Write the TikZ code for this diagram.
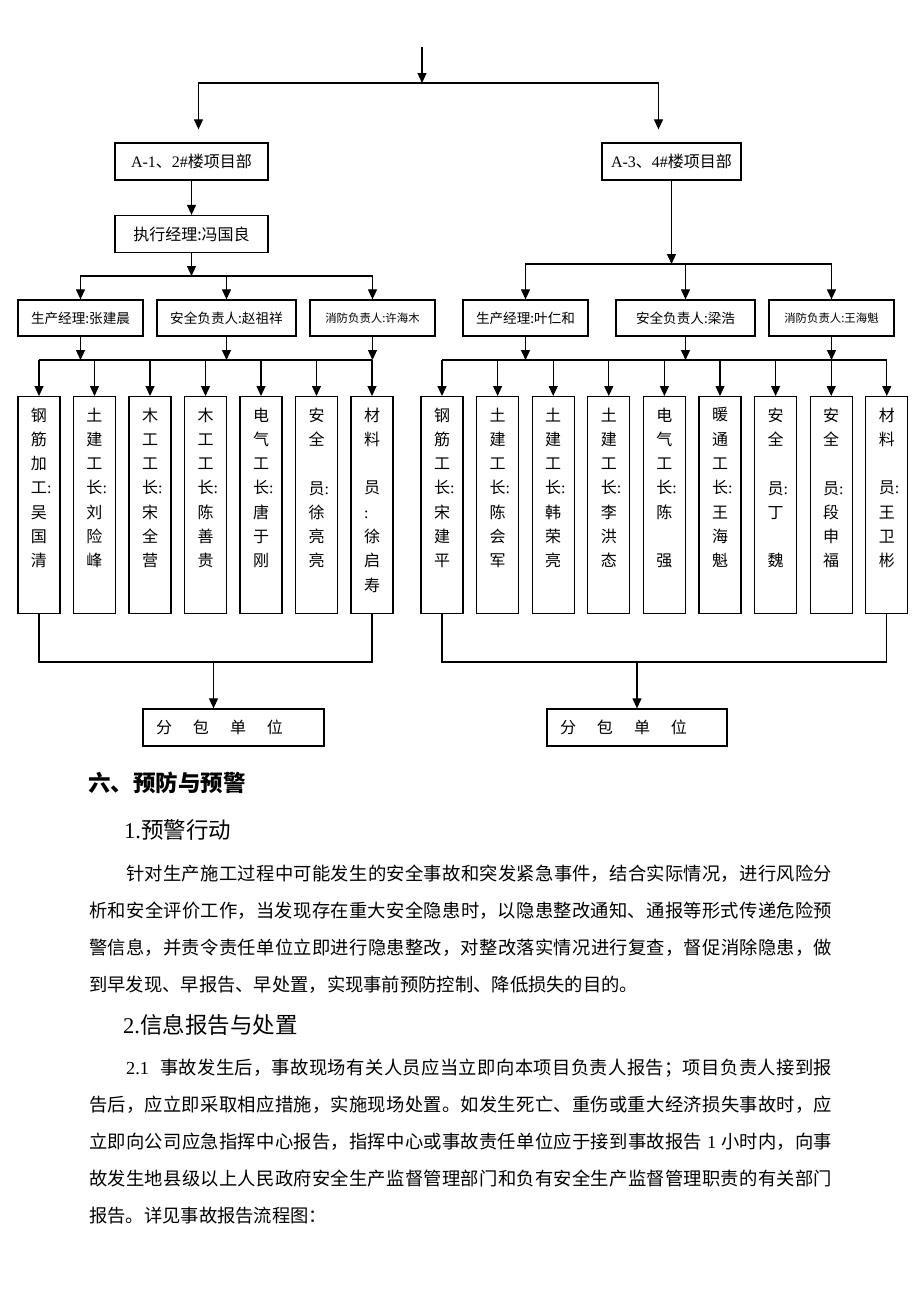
\documentclass[tikz,border=0pt]{standalone}
\usepackage{fontspec}
\setmainfont{Noto Sans CJK SC}
\newfontfamily\latfont{Liberation Serif}
\usetikzlibrary{arrows.meta,positioning,calc}
\newcommand\lat[1]{{\latfont #1}}
\newcommand\cln{\rlap{\lat{:}}}
\newcommand\vtxt[1]{\parbox[t][217pt][t]{42pt}{\centering\vspace*{11pt}#1}}
\XeTeXlinebreaklocale "zh"
\XeTeXlinebreakskip=0pt plus 2pt\relax

\begin{document}
\begin{tikzpicture}[x=1pt, y=-1pt,
    wire/.style={line width=1.2pt},
    arrow/.style={-{Triangle[width=9pt,length=10pt]}, line width=1.2pt},
    projbox/.style={rectangle, draw, line width=1.3pt, minimum width=153pt, minimum height=37pt, inner sep=0pt, font=\fontsize{16}{16}\selectfont},
    rolebox/.style={rectangle, draw, line width=1.3pt, minimum width=125pt, minimum height=36pt, inner sep=0pt, font=\fontsize{13.6}{14}\selectfont},
    crew/.style={rectangle, draw, line width=1.3pt, anchor=north, inner sep=0pt, font=\fontsize{16}{24.3}\selectfont},
    subbox/.style={rectangle, draw, line width=1.3pt, text width=155pt, inner xsep=13pt, inner ysep=0pt, minimum height=37pt, align=left, font=\fontsize{16}{16}\selectfont},
    para/.style={text width=743pt, align=justify, inner sep=0pt, anchor=base west, font=\fontsize{18.3}{37}\selectfont},
    head/.style={inner sep=0pt, anchor=base west, font=\fontsize{22.5}{24}\selectfont}
]
    \path[fill=white] (0,0) rectangle (920,1302);
    \useasboundingbox (0,0) rectangle (920,1302);

    % 项目部
    \node[projbox] (projA) at (191.5,161.5) {\lat{A-1}、\lat{2\#}楼项目部};
    \node[projbox] (execA) at (191.5,234) {执行经理:冯国良};
    \node[projbox, minimum width=139pt] (projB) at (671.5,161.5) {\lat{A-3}、\lat{4\#}楼项目部};

    % 管理人员
    \node[rolebox] (prodA) at (80.5,318) {生产经理:张建晨};
    \node[rolebox, minimum width=139pt] (safeA) at (226.5,318) {安全负责人:赵祖祥};
    \node[rolebox, font=\fontsize{11.4}{12}\selectfont] (fireA) at (372.5,318) {消防负责人:许海木};
    \node[rolebox] (prodB) at (525.5,318) {生产经理:叶仁和};
    \node[rolebox, minimum width=139pt] (safeB) at (685.5,318) {安全负责人:梁浩};
    \node[rolebox, font=\fontsize{11.4}{12}\selectfont] (fireB) at (831.5,318) {消防负责人:王海魁};

    % 工长及班组
    \foreach \t [count=\i] in {%
        {钢\\筋\\加\\工\cln\\吴\\国\\清},
        {土\\建\\工\\长\cln\\刘\\险\\峰},
        {木\\工\\工\\长\cln\\宋\\全\\营},
        {木\\工\\工\\长\cln\\陈\\善\\贵},
        {电\\气\\工\\长\cln\\唐\\于\\刚},
        {安\\全\\\mbox{}\\员\cln\\徐\\亮\\亮},
        {材\\料\\\mbox{}\\员\\\makebox[1em][l]{\lat{:}}\\徐\\启\\寿}}
        \node[crew] (crewA\i) at ({39+55.5*(\i-1)},396) {\vtxt{\t}};
    \foreach \t [count=\i] in {%
        {钢\\筋\\工\\长\cln\\宋\\建\\平},
        {土\\建\\工\\长\cln\\陈\\会\\军},
        {土\\建\\工\\长\cln\\韩\\荣\\亮},
        {土\\建\\工\\长\cln\\李\\洪\\态},
        {电\\气\\工\\长\cln\\陈\\\mbox{}\\强},
        {暖\\通\\工\\长\cln\\王\\海\\魁},
        {安\\全\\\mbox{}\\员\cln\\丁\\\mbox{}\\魏},
        {安\\全\\\mbox{}\\员\cln\\段\\申\\福},
        {材\\料\\\mbox{}\\员\cln\\王\\卫\\彬}}
        \node[crew] (crewB\i) at ({442+55.6*(\i-1)},396) {\vtxt{\t}};

    % 分包单位
    \node[subbox] (subA) at (233.5,727.5) {分\hspace{21pt}包\hspace{21pt}单\hspace{21pt}位};
    \node[subbox, text width=154pt] (subB) at (637,727.5) {分\hspace{21pt}包\hspace{21pt}单\hspace{21pt}位};

    % 箭头
    \coordinate (top) at (422,47);
    \coordinate (bus0) at (422,83);
    \coordinate (inA0) at ([xshift=7pt,yshift=13pt]projA.north);
    \coordinate (inB0) at ([xshift=-13pt,yshift=13pt]projB.north);
    \draw[arrow] (top) -- (bus0);
    \draw[arrow] (bus0) -| (inA0);
    \draw[arrow] (bus0) -| (inB0);

    \draw[arrow] (projA) -- (execA);
    \coordinate (busA1) at (191.5,276);
    \draw[arrow] (execA) -- (busA1);
    \draw[arrow] (busA1) -| (prodA);
    \draw[arrow] (busA1) -| (fireA);
    \draw[arrow] (busA1 -| safeA) -- (safeA);

    \coordinate (busB1) at (671.5,264);
    \draw[arrow] (projB) -- (busB1);
    \draw[arrow] (busB1) -| (prodB);
    \draw[arrow] (busB1) -| (fireB);
    \draw[arrow] (busB1 -| safeB) -- (safeB);

    \coordinate (busA2) at (0,360);
    \coordinate (busB2) at (0,360);
    \foreach \n in {prodA,safeA,fireA} \draw[arrow] (\n) -- (\n |- busA2);
    \foreach \n in {prodB,safeB,fireB} \draw[arrow] (\n) -- (\n |- busB2);
    \draw[wire] (crewA1 |- busA2) -- (crewA7 |- busA2);
    \draw[wire] (crewB1 |- busB2) -- (crewB9 |- busB2);
    \foreach \i in {1,...,7} \draw[arrow] (crewA\i |- busA2) -- (crewA\i);
    \foreach \i in {1,...,9} \draw[arrow] (crewB\i |- busB2) -- (crewB\i);

    \coordinate (busA3) at (0,662);
    \coordinate (busB3) at (0,662);
    \draw[wire] (crewA1) |- (crewA7 |- busA3) -- (crewA7);
    \draw[wire] (crewB1) |- (crewB9 |- busB3) -- (crewB9);
    \coordinate (inA) at ([xshift=-20pt]subA.north);
    \draw[arrow] (inA |- busA3) -- (inA);
    \draw[arrow] (subB |- busB3) -- (subB);

    % 正文
    \node[head] (sec6) at (88,791.6) {\bfseries 六、预防与预警};
    \node[head] (sec61) at (124,838) {\lat{1.}预警行动};
    \node[para] (p1) at (89,880) {\hspace*{37pt}针对生产施工过程中可能发生的安全事故和突发紧急事件，结合实际情况，进行风险分\linebreak 析和安全评价工作，当发现存在重大安全隐患时，以隐患整改通知、通报等形式传递危险预\linebreak 警信息，并责令责任单位立即进行隐患整改，对整改落实情况进行复查，督促消除隐患，做\linebreak 到早发现、早报告、早处置，实现事前预防控制、降低损失的目的。};
    \node[head] (sec62) at (123,1033) {\lat{2.}信息报告与处置};
    \node[para] (p2) at (89,1074) {\hspace*{37pt}\lat{2.1}\hspace{0.6em}事故发生后，事故现场有关人员应当立即向本项目负责人报告；项目负责人接到报\linebreak 告后，应立即采取相应措施，实施现场处置。如发生死亡、重伤或重大经济损失事故时，应\linebreak 立即向公司应急指挥中心报告，指挥中心或事故责任单位应于接到事故报告\lat{~1~}小时内，向事\linebreak 故发生地县级以上人民政府安全生产监督管理部门和负有安全生产监督管理职责的有关部门\linebreak 报告。详见事故报告流程图：};
\end{tikzpicture}
\end{document}
